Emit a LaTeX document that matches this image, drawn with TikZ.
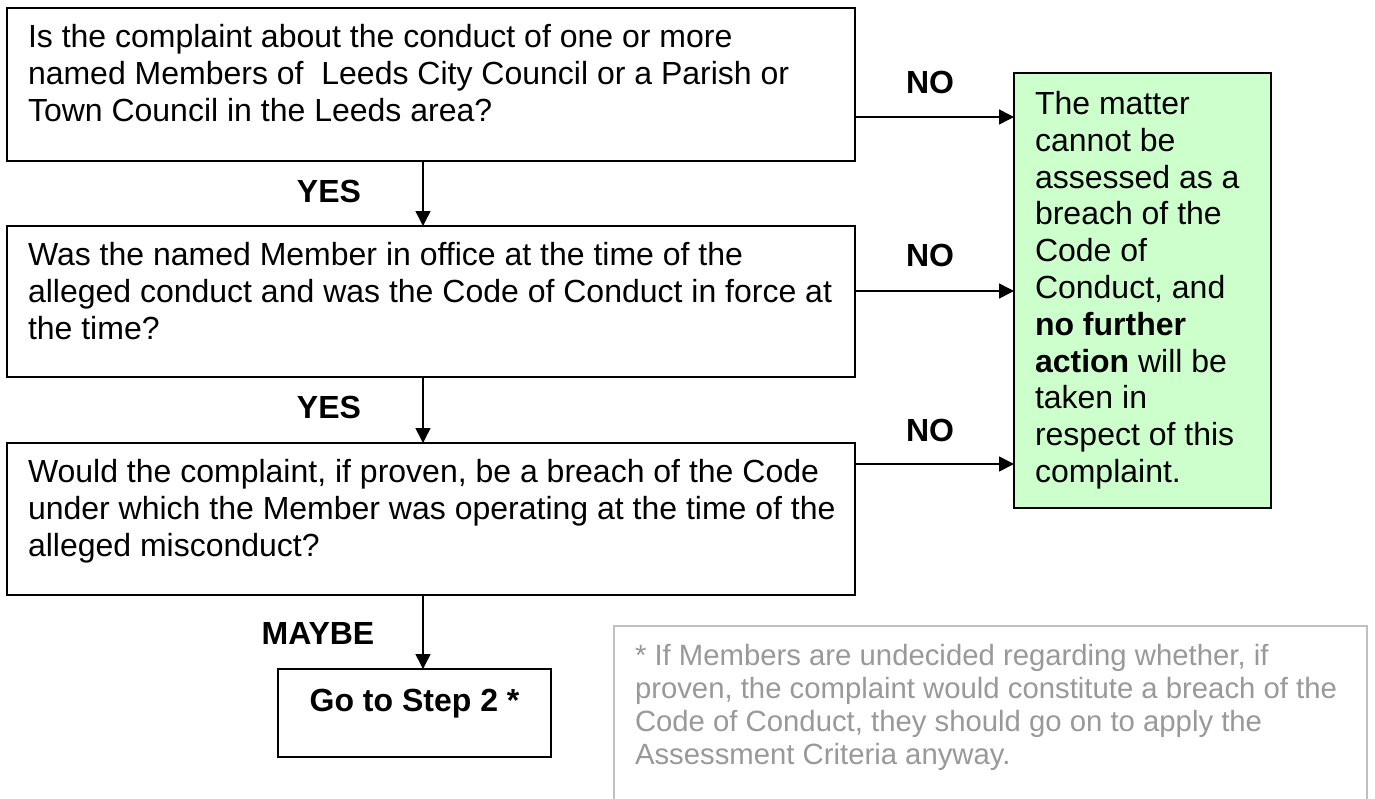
\documentclass[tikz,border=0pt]{standalone}
\usepackage{fontspec}
\setmainfont{Liberation Sans}
\usetikzlibrary{arrows.meta}
\definecolor{greenfill}{HTML}{CCFFCC}
\definecolor{notegray}{HTML}{999999}
\definecolor{noteborder}{HTML}{C0C0C0}
\begin{document}
\begin{tikzpicture}[x=1pt,y=-1pt,
  box/.style={draw=black, line width=2pt, inner sep=0pt, outer sep=0pt, anchor=north west},
  txt/.style={inner sep=0pt, outer sep=0pt, anchor=north west, align=left, font=\fontsize{32}{36.8}\selectfont},
  notetxt/.style={inner sep=0pt, outer sep=0pt, anchor=north west, align=left, text=notegray, font=\fontsize{29.3}{33}\selectfont},
  lbl/.style={inner sep=0pt, outer sep=0pt, font=\fontsize{32}{36.8}\selectfont\bfseries},
  arr/.style={line width=1.5pt, -{Triangle[length=15pt,width=15pt]}}
]
\useasboundingbox (0,0) rectangle (1375,798);
\fill[white] (0,0) rectangle (1375,798);

% boxes
\node[box, minimum width=848pt, minimum height=153pt] (b1) at (7,8) {};
\node[box, minimum width=848pt, minimum height=151pt] (b2) at (7,226) {};
\node[box, minimum width=848pt, minimum height=152pt] (b3) at (7,443) {};
\node[box, minimum width=273pt, minimum height=88pt] (go) at (278,669) {};
\node[box, fill=greenfill, minimum width=257pt, minimum height=435pt] (green) at (1014,73) {};
\node[draw=noteborder, line width=2pt, inner sep=0pt, outer sep=0pt, anchor=north west, minimum width=753pt, minimum height=182pt] (note) at (614,626) {};

% texts
\node[txt] (t1) at (28,21.7) {\strut Is the complaint about the conduct of one or more\\named Members of\ \ Leeds City Council or a Parish or\\Town Council in the Leeds area?};
\node[txt] (t2) at (28,240.2) {\strut Was the named Member in office at the time of the\\alleged conduct and was the Code of Conduct in force at\\the time?};
\node[txt] (t3) at (28,456.7) {\strut Would the complaint, if proven, be a breach of the Code\\under which the Member was operating at the time of the\\alleged misconduct?};
\node[txt] (tg) at (1035,88.7) {\strut The matter\\cannot be\\assessed as a\\breach of the\\Code of\\Conduct, and\\\textbf{no further}\\\textbf{action} will be\\taken in\\respect of this\\complaint.};
\node[lbl, anchor=base] (tgo) at (414.5,711.5) {Go to Step 2 *};
\node[notetxt] (tn) at (635,642.4) {\strut * If Members are undecided regarding whether, if\\proven, the complaint would constitute a breach of the\\Code of Conduct, they should go on to apply the\\Assessment Criteria anyway.};

% connectors
\coordinate (xa) at (423,0);
\coordinate (y1) at (0,117);
\coordinate (y2) at (0,291);
\coordinate (y3) at (0,464);
\draw[arr] (b1.south -| xa) -- (b2.north -| xa);
\draw[arr] (b2.south -| xa) -- (b3.north -| xa);
\draw[arr] (b3.south -| xa) -- (go.north -| xa);
\draw[arr] (b1.east |- y1) -- (green.west |- y1);
\draw[arr] (b2.east |- y2) -- (green.west |- y2);
\draw[arr] (b3.east |- y3) -- (green.west |- y3);

% labels
\node[lbl] (yes1) at (329,191) {YES};
\node[lbl] (yes2) at (329,407) {YES};
\node[lbl] (maybe) at (318,633) {MAYBE};
\node[lbl] (no1) at (930,82) {NO};
\node[lbl] (no2) at (930,255) {NO};
\node[lbl] (no3) at (930,430) {NO};
\end{tikzpicture}
\end{document}
